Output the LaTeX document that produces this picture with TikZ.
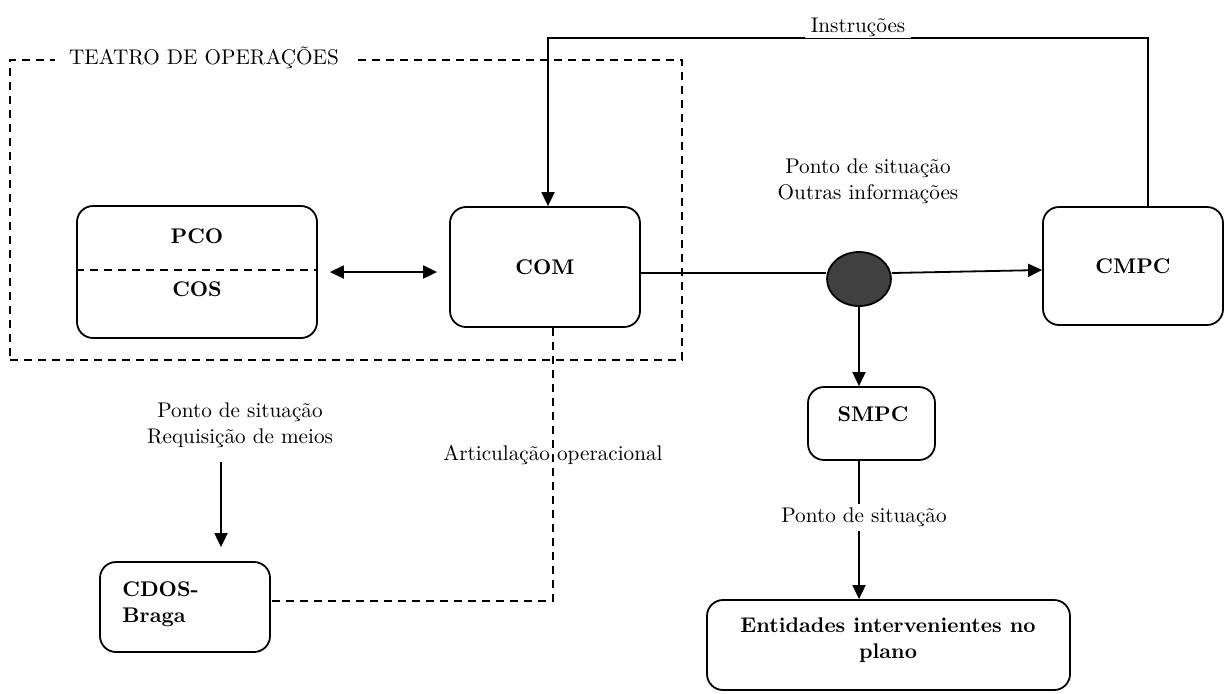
\documentclass[tikz,border=0pt]{standalone}
\usepackage{fontspec}
\usetikzlibrary{arrows.meta,calc,shapes.geometric}
\begin{document}
\begin{tikzpicture}[x=0.5pt,y=-0.5pt,
  every node/.style={font=\fontsize{10.6}{13}\selectfont},
  box/.style={draw, line width=0.9pt, rounded corners=8pt, inner sep=0pt},
  lbl/.style={align=center, inner sep=1pt},
  bold/.style={font=\fontsize{10.6}{13}\selectfont\bfseries, inner sep=1pt},
  conn/.style={line width=0.9pt},
  arr/.style={conn, -{Triangle[length=7pt,width=6.5pt]}},
  biarr/.style={conn, {Triangle[length=7pt,width=6.5pt]}-{Triangle[length=7pt,width=6.5pt]}},
  dashline/.style={line width=0.7pt, dash pattern=on 4pt off 3pt},
]
\useasboundingbox (0,0) rectangle (1224,693);

% theatre of operations
\node[draw, dashline, minimum width=336pt, minimum height=150pt, inner sep=0pt] (teatro) at (346,210) {};
\node[lbl, fill=white, inner xsep=7pt] (teatrolbl) at (204,58) {TEATRO DE OPERAÇÕES};

% boxes
\node[box, minimum width=120pt, minimum height=66pt] (pco) at (197,272) {};
\draw[dashline] (pco.west |- 0,270) -- (pco.east |- 0,270);
\node[bold] (pcot) at (197,236) {PCO};
\node[bold] (cost) at (197,289) {COS};

\node[box, minimum width=95pt, minimum height=60pt, bold, inner sep=0pt] (com) at (545,267) {COM};
\node[box, minimum width=90pt, minimum height=59pt, bold, inner sep=0pt] (cmpc) at (1133,266) {CMPC};

\node[ellipse, draw, fill=black!75, line width=0.9pt, minimum width=32pt, minimum height=27pt, inner sep=0pt] (circ) at (859,279) {};

\node[box, minimum width=63.5pt, minimum height=36.5pt] (smpc) at (871.5,423.5) {};
\node[bold] (smpct) at (873,414) {SMPC};

\node[box, minimum width=181.5pt, minimum height=45pt] (ent) at (888.5,645) {};
\node[bold, align=center] (entt) at (888,640) {Entidades intervenientes no\\plano};

\node[box, minimum width=85pt, minimum height=45pt] (cdos) at (185,607) {};
\node[bold, align=left, anchor=west] (cdost) at (120,604) {CDOS-\\Braga};

% labels
\node[lbl] (ps1) at (868,181) {Ponto de situação\\Outras informações};
\node[lbl] (ps2) at (240,425) {Ponto de situação\\Requisição de meios};
\node[lbl] (artl) at (553,455) {Articulação operacional};

% connectors
\coordinate (itop) at (1148,38);
\coordinate (ileft) at (548,38);
\draw[arr] (cmpc.north -| itop) -- (itop) -- (ileft) -- (ileft |- com.north);
\node[lbl, fill=white, inner xsep=3pt] (instr) at (858,27) {Instruções};

\draw[biarr] ([xshift=6pt]pco.east) -- ([xshift=-6pt]com.west |- pco.east);

\draw[conn] (com.east |- 0,273) -- (circ.west |- 0,273);
\draw[arr] (circ.east |- 0,273) -- (cmpc.west |- 0,270);
\draw[arr] (circ.south) -- (circ.south |- smpc.north);
\draw[arr] (circ.south |- smpc.south) -- (circ.south |- ent.north)
  node[lbl, pos=0.41, fill=white, inner ysep=2pt, xshift=2.5pt] (ps3) {Ponto de situação};

\coordinate (rq) at (221,462);
\draw[arr, shorten >=7pt] (rq) -- (rq |- cdos.north);

\coordinate (artc) at (553,601);
\draw[dashline] (com.south -| artc) -- (artc) -- (artc -| cdos.east);
\end{tikzpicture}
\end{document}
